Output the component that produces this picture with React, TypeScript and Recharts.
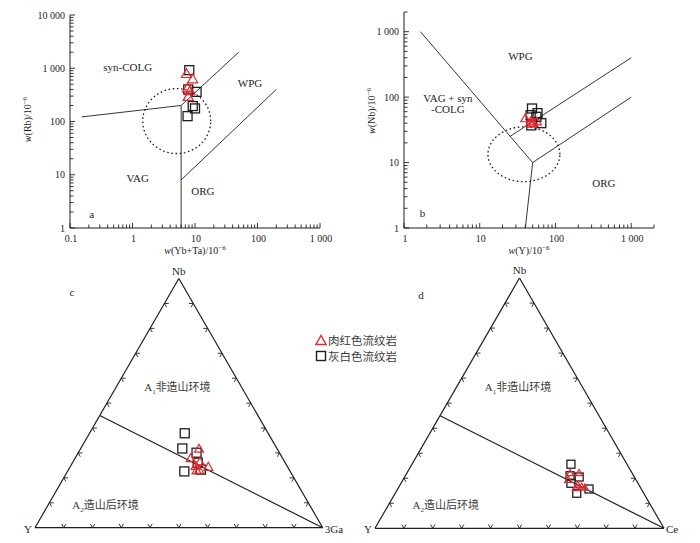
import React from "react";
import { Label, ReferenceDot, ReferenceLine, Scatter, ScatterChart, XAxis, YAxis } from "recharts";

const SERIF = '"Liberation Serif", "Times New Roman", serif';
const CJK = '"Noto Sans CJK SC", "Noto Sans CJK TC", sans-serif';
const INK = "#1e1e1e";
const RED = "#e8262b";
const GREYTEXT = "#3a3a3a";
const SQ = Math.sqrt(3) / 2;

// a: w(Rb) vs w(Yb+Ta), 10^-6
const aPinkYbTa = [7.3, 9.2, 7.6, 8.3, 7.8];
const aPinkRb = [780, 620, 420, 370, 290];
const aGreyYbTa = [8.1, 7.8, 10.6, 9.2, 10.0, 7.6];
const aGreyRb = [920, 400, 360, 195, 176, 126];

// b: w(Nb) vs w(Y), 10^-6
const bPinkY = [40, 57, 47, 48, 51];
const bPinkNb = [47, 42, 42, 39, 40];
const bGreyY = [49, 58, 47, 65, 48, 56];
const bGreyNb = [67, 57, 53, 40, 37, 50];

// c: Nb - Y - 3Ga (%)
const cPinkNb = [31.6, 27.8, 24.3, 22.9, 26.3, 24.7, 23.1];
const cPinkY = [27.2, 32.0, 27.6, 32.4, 29.5, 31.8, 31.4];
const cPinkGa = [41.2, 40.2, 48.1, 44.7, 44.2, 43.5, 45.5];
const cGreyNb = [37.9, 31.8, 30.1, 26.1, 23.3, 22.6];
const cGreyY = [29.0, 32.9, 28.8, 30.4, 30.7, 36.8];
const cGreyGa = [33.1, 35.3, 41.1, 43.5, 46.0, 40.6];

// d: Nb - Y - Ce (%)
const dPinkNb = [22.0, 22.0, 19.3, 17.3, 16.6, 16.0, 16.2];
const dPinkY = [21.5, 18.4, 23.5, 21.2, 20.2, 22.5, 19.3];
const dPinkCe = [56.5, 59.6, 57.2, 61.5, 63.2, 61.5, 64.5];
const dGreyNb = [25.6, 21.0, 20.5, 18.0, 15.7, 14.0];
const dGreyY = [19.4, 22.0, 19.1, 23.2, 18.1, 23.2];
const dGreyCe = [55.0, 57.0, 60.4, 58.8, 66.2, 62.8];

// field boundaries (Pearce et al. 1984)
const aBoundaries = [
  [[0.155, 122], [6, 200]],
  [[6, 1], [6, 200]],
  [[6, 200], [50, 2000]],
  [[6, 8], [200, 400]],
];
const bBoundaries = [
  [[1.65, 1000], [50, 10]],
  [[50, 10], [40, 1]],
  [[50, 10], [1000, 100]],
  [[25, 25], [1000, 400]],
];
// post-collision field (centre, half-axes in decades)
const aPostCol = { x: 5.1, y: 102, rx: 0.544, ry: 0.61 };
const bPostCol = { x: 38.3, y: 13.4, rx: 0.475, ry: 0.419 };

// A1/A2 divide: from Nb-Y side (Nb fraction) to the right apex
const dividerNb = 0.45;
const edgeTicks = [0.1, 0.2, 0.3, 0.4, 0.5, 0.6, 0.7, 0.8, 0.9];

const legendNames = ["肉红色流纹岩", "灰白色流纹岩"];

type Pt = { x: number; y: number };

const zip = (xs: number[], ys: number[]): Pt[] => xs.map((x, i) => ({ x, y: ys[i] }));
const tern = (top: number[], left: number[], right: number[]): Pt[] =>
  top.map((t, i) => {
    const s = t + left[i] + right[i];
    return { x: right[i] / s + t / s / 2, y: (t / s) * SQ };
  });

function logTicks(lo: number, hi: number): number[] {
  const out: number[] = [];
  for (let d = lo; d <= hi * 1.0001; d *= 10) {
    for (let k = 1; k <= 9; k++) {
      const v = parseFloat((d * k).toPrecision(6));
      if (v <= hi * 1.0001) out.push(v);
    }
  }
  return out;
}

function ellipse(f: { x: number; y: number; rx: number; ry: number }): Pt[] {
  const pts: Pt[] = [];
  for (let i = 0; i <= 90; i++) {
    const t = (i / 90) * 2 * Math.PI;
    pts.push({ x: f.x * 10 ** (f.rx * Math.cos(t)), y: f.y * 10 ** (f.ry * Math.sin(t)) });
  }
  return pts;
}

const isMajor = (v: number) => Math.abs(Math.log10(v) - Math.round(Math.log10(v))) < 1e-9;
const fmt = (v: number) => (v >= 1000 ? String(v).replace(/\B(?=(\d{3})+$)/g, " ") : String(v));

function XTick(p: any) {
  const v = p.payload.value;
  const m = isMajor(v);
  return (
    <g>
      <line x1={p.x} x2={p.x} y1={p.y} y2={p.y - (m ? 5 : 3.5)} stroke={INK} strokeWidth={0.9} />
      {m && (
        <text x={p.x + 1} y={p.y + 14} textAnchor="middle" fontFamily={SERIF} fontSize={10} fill={INK}>
          {fmt(v)}
        </text>
      )}
    </g>
  );
}

function YTick(p: any) {
  const v = p.payload.value;
  const m = isMajor(v);
  return (
    <g>
      <line x1={p.x} x2={p.x + (m ? 5 : 3.5)} y1={p.y} y2={p.y} stroke={INK} strokeWidth={0.9} />
      {m && (
        <text x={p.x - 5} y={p.y + 3.5} textAnchor="end" fontFamily={SERIF} fontSize={10} fill={INK}>
          {fmt(v)}
        </text>
      )}
    </g>
  );
}

const triangle = (size: number) => (p: any) => {
  const h = size * 0.88;
  return (
    <polygon
      points={`${p.cx},${p.cy - h * 0.6} ${p.cx - size / 2},${p.cy + h * 0.4} ${p.cx + size / 2},${p.cy + h * 0.4}`}
      fill="none"
      stroke={RED}
      strokeWidth={1.2}
    />
  );
};

const square = (size: number) => (p: any) => (
  <rect x={p.cx - size / 2} y={p.cy - size / 2} width={size} height={size} fill="none" stroke={INK} strokeWidth={1.3} />
);

const nothing = () => <g />;

const sup = (s: string) => (
  <tspan dy={-4} fontSize={7}>
    {s}
  </tspan>
);

function textAt(lines: string[], size = 11) {
  return (p: any) => (
    <text x={p.cx} y={p.cy + 4} textAnchor="middle" fontFamily={SERIF} fontSize={size} fill={INK}>
      {lines.map((l, i) => (
        <tspan key={i} x={p.cx} dy={i === 0 ? -(lines.length - 1) * 5.5 : 11}>
          {l}
        </tspan>
      ))}
    </text>
  );
}

type LogProps = {
  left: number;
  width: number;
  margin: { top: number; right: number; bottom: number; left: number };
  xDomain: [number, number];
  yDomain: [number, number];
  bounds: number[][][];
  field: { x: number; y: number; rx: number; ry: number };
  pink: Pt[];
  grey: Pt[];
  tri: number;
  labels: { x: number; y: number; text: string[] }[];
  xTitle: React.ReactNode;
  yTitle: React.ReactNode;
  yTitleX: number;
  yTitleDy: number;
};

function LogPanel(pr: LogProps) {
  return (
    <div style={{ position: "absolute", left: pr.left, top: 0 }}>
      <ScatterChart width={pr.width} height={265} margin={pr.margin}>
        <XAxis
          type="number"
          dataKey="x"
          scale="log"
          domain={pr.xDomain}
          allowDataOverflow
          ticks={logTicks(pr.xDomain[0], pr.xDomain[1])}
          interval={0}
          tick={XTick}
          tickLine={false}
          tickSize={0}
          tickMargin={0}
          axisLine={{ stroke: INK, strokeWidth: 1 }}
          height={37}
        >
          <Label
            content={(p: any) => (
              <text
                x={p.viewBox.x + p.viewBox.width / 2}
                y={p.viewBox.y + 26}
                textAnchor="middle"
                fontFamily={SERIF}
                fontSize={10}
                fill={INK}
              >
                {pr.xTitle}
              </text>
            )}
          />
        </XAxis>
        <YAxis
          type="number"
          dataKey="y"
          scale="log"
          domain={pr.yDomain}
          allowDataOverflow
          ticks={logTicks(pr.yDomain[0], pr.yDomain[1])}
          interval={0}
          tick={YTick}
          tickLine={false}
          tickSize={0}
          tickMargin={0}
          axisLine={{ stroke: INK, strokeWidth: 1 }}
          width={50}
        >
          <Label
            content={(p: any) => {
              const x = pr.yTitleX;
              const y = p.viewBox.y + p.viewBox.height / 2 + pr.yTitleDy;
              return (
                <text
                  x={x}
                  y={y}
                  transform={`rotate(-90 ${x} ${y})`}
                  textAnchor="middle"
                  fontFamily={SERIF}
                  fontSize={10}
                  fill={INK}
                >
                  {pr.yTitle}
                </text>
              );
            }}
          />
        </YAxis>
        {pr.bounds.map((s, i) => (
          <ReferenceLine
            key={i}
            segment={[
              { x: s[0][0], y: s[0][1] },
              { x: s[1][0], y: s[1][1] },
            ]}
            stroke={INK}
            strokeWidth={0.9}
            ifOverflow="visible"
          />
        ))}
        <Scatter
          data={ellipse(pr.field)}
          line={{ stroke: INK, strokeWidth: 1.3, strokeDasharray: "1.6 2.6" }}
          shape={nothing}
          isAnimationActive={false}
        />
        {pr.labels.map((l, i) => (
          <ReferenceDot key={i} x={l.x} y={l.y} r={0} ifOverflow="visible" shape={textAt(l.text)} />
        ))}
        <Scatter data={pr.grey} shape={square(9)} isAnimationActive={false} />
        <Scatter data={pr.pink} shape={triangle(pr.tri)} isAnimationActive={false} />
      </ScatterChart>
    </div>
  );
}

function vertexLabel(text: string, dx: number, dy: number, anchor: string) {
  return (p: any) => (
    <text x={p.cx + dx} y={p.cy + dy} textAnchor={anchor} fontFamily={SERIF} fontSize={11} fill={INK}>
      {text}
    </text>
  );
}

function fieldLabel(sub: string, name: string) {
  return (p: any) => (
    <text x={p.cx} y={p.cy + 4} textAnchor="middle" fontFamily={SERIF} fontSize={11} fill={GREYTEXT}>
      A
      <tspan dy={3} fontSize={7}>
        {sub}
      </tspan>
      <tspan dy={-3} fontFamily={CJK} fontSize={11}>
        {name}
      </tspan>
    </text>
  );
}

const letterLabel = (s: string) => (p: any) => (
  <text x={p.cx} y={p.cy + 4} textAnchor="middle" fontFamily={SERIF} fontSize={11} fill={INK}>
    {s}
  </text>
);

type TernProps = {
  left: number;
  margin: { top: number; right: number; bottom: number; left: number };
  rightName: string;
  letter: string;
  letterAt: Pt;
  pink: Pt[];
  grey: Pt[];
  tri: number;
  sq: number;
};

function TernaryPanel(pr: TernProps) {
  const ARM = 0.015;
  const segs: Pt[][] = [
    [{ x: 0, y: 0 }, { x: 1, y: 0 }],
    [{ x: 0, y: 0 }, { x: 0.5, y: SQ }],
    [{ x: 1, y: 0 }, { x: 0.5, y: SQ }],
    [{ x: dividerNb / 2, y: dividerNb * SQ }, { x: 1, y: 0 }],
  ];
  const tickSegs: Pt[][] = [];
  edgeTicks.forEach((f) => {
    const sets: [Pt, number[][]][] = [
      [{ x: f, y: 0 }, [[0.5, SQ], [-0.5, SQ]]],
      [{ x: f / 2, y: f * SQ }, [[1, 0], [0.5, -SQ]]],
      [{ x: 1 - f / 2, y: f * SQ }, [[-1, 0], [-0.5, -SQ]]],
    ];
    sets.forEach(([p, ds]) =>
      ds.forEach((d) => tickSegs.push([p, { x: p.x + d[0] * ARM, y: p.y + d[1] * ARM }]))
    );
  });
  return (
    <div style={{ position: "absolute", left: pr.left, top: 235 }}>
      <ScatterChart width={350} height={308} margin={pr.margin}>
        <XAxis type="number" dataKey="x" domain={[0, 1]} hide height={0} />
        <YAxis type="number" dataKey="y" domain={[0, 1]} hide width={0} />
        {segs.map((s, i) => (
          <ReferenceLine key={"e" + i} segment={s} stroke={INK} strokeWidth={1.2} ifOverflow="visible" />
        ))}
        {tickSegs.map((s, i) => (
          <ReferenceLine key={"t" + i} segment={s} stroke={INK} strokeWidth={0.9} ifOverflow="visible" />
        ))}
        <ReferenceDot x={0.5} y={SQ} r={0} ifOverflow="visible" shape={vertexLabel("Nb", 0, -4, "middle")} />
        <ReferenceDot x={0} y={0} r={0} ifOverflow="visible" shape={vertexLabel("Y", -3, 5, "end")} />
        <ReferenceDot x={1} y={0} r={0} ifOverflow="visible" shape={vertexLabel(pr.rightName, 2, 5, "start")} />
        <ReferenceDot x={pr.letterAt.x} y={pr.letterAt.y} r={0} ifOverflow="visible" shape={letterLabel(pr.letter)} />
        <ReferenceDot x={0.495} y={0.49} r={0} ifOverflow="visible" shape={fieldLabel("1", "非造山环境")} />
        <ReferenceDot x={0.245} y={0.08} r={0} ifOverflow="visible" shape={fieldLabel("2", "造山后环境")} />
        <Scatter data={pr.grey} shape={square(pr.sq)} isAnimationActive={false} />
        <Scatter data={pr.pink} shape={triangle(pr.tri)} isAnimationActive={false} />
      </ScatterChart>
    </div>
  );
}

function LegendBox() {
  return (
    <div
      style={{
        position: "absolute",
        left: 315,
        top: 332,
        fontFamily: CJK,
        fontSize: 11.5,
        lineHeight: "16px",
        color: GREYTEXT,
      }}
    >
      {legendNames.map((n, i) => (
        <div key={n} style={{ display: "flex", alignItems: "center" }}>
          <svg width={12} height={12} style={{ marginRight: 1 }}>
            {i === 0 ? (
              <polygon points="6,1.5 1,10.5 11,10.5" fill="none" stroke={RED} strokeWidth={1.4} />
            ) : (
              <rect x={1.5} y={1.5} width={9} height={9} fill="none" stroke={INK} strokeWidth={1.4} />
            )}
          </svg>
          <span>{n}</span>
        </div>
      ))}
    </div>
  );
}

export default function App() {
  return (
    <div
      style={{ position: "absolute", left: 0, top: 0, width: 700, height: 543, background: "#fff", overflow: "hidden" }}
    >
      <LogPanel
        left={0}
        width={350}
        margin={{ top: 15, right: 30, bottom: 0, left: 20 }}
        xDomain={[0.1, 1000]}
        yDomain={[1, 10000]}
        bounds={aBoundaries}
        field={aPostCol}
        pink={zip(aPinkYbTa, aPinkRb)}
        grey={zip(aGreyYbTa, aGreyRb)}
        tri={10}
        labels={[
          { x: 0.84, y: 1060, text: ["syn-COLG"] },
          { x: 76, y: 525, text: ["WPG"] },
          { x: 1.21, y: 8.7, text: ["VAG"] },
          { x: 13.4, y: 4.9, text: ["ORG"] },
          { x: 0.222, y: 1.83, text: ["a"] },
        ]}
        xTitle={
          <>
            <tspan fontStyle="italic">w</tspan>(Yb+Ta)/10{sup("−6")}
          </>
        }
        yTitle={
          <>
            <tspan fontStyle="italic">w</tspan>(Rb)/10{sup("−6")}
          </>
        }
        yTitleX={31}
        yTitleDy={-2}
      />
      <LogPanel
        left={350}
        width={350}
        margin={{ top: 12, right: 46, bottom: 0, left: 4 }}
        xDomain={[1, 2000]}
        yDomain={[1, 2000]}
        bounds={bBoundaries}
        field={bPostCol}
        pink={zip(bPinkY, bPinkNb)}
        grey={zip(bGreyY, bGreyNb)}
        tri={9}
        labels={[
          { x: 34.4, y: 420, text: ["WPG"] },
          { x: 3.8, y: 80, text: ["VAG + syn", "-COLG"] },
          { x: 435, y: 4.85, text: ["ORG"] },
          { x: 1.75, y: 1.69, text: ["b"] },
        ]}
        xTitle={
          <>
            <tspan fontStyle="italic">w</tspan>(Y)/10{sup("−6")}
          </>
        }
        yTitle={
          <>
            <tspan fontStyle="italic">w</tspan>(Nb)/10{sup("−6")}
          </>
        }
        yTitleX={25}
        yTitleDy={-9}
      />
      <TernaryPanel
        left={0}
        margin={{ top: 5, right: 27.3, bottom: 15.3, left: 35 }}
        rightName="3Ga"
        letter="c"
        letterAt={{ x: 0.128, y: 0.82 }}
        pink={tern(cPinkNb, cPinkY, cPinkGa)}
        grey={tern(cGreyNb, cGreyY, cGreyGa)}
        tri={9}
        sq={9}
      />
      <TernaryPanel
        left={350}
        margin={{ top: 4.3, right: 36, bottom: 14.7, left: 25 }}
        rightName="Ce"
        letter="d"
        letterAt={{ x: 0.159, y: 0.807 }}
        pink={tern(dPinkNb, dPinkY, dPinkCe)}
        grey={tern(dGreyNb, dGreyY, dGreyCe)}
        tri={7}
        sq={8}
      />
      <LegendBox />
    </div>
  );
}
